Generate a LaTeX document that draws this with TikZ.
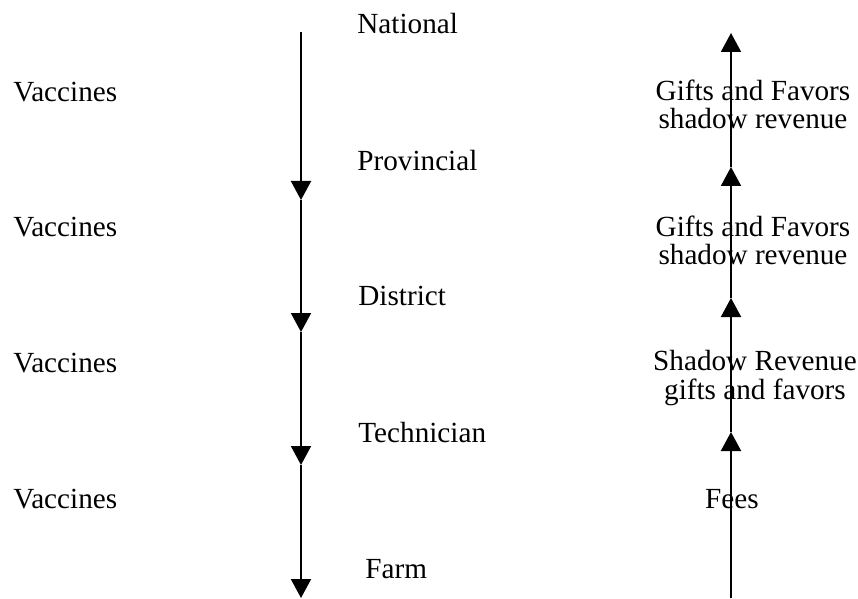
\documentclass[tikz,border=0pt]{standalone}
\usepackage{fontspec}
\setmainfont{Liberation Serif}
\usetikzlibrary{arrows.meta}
\begin{document}
\begin{tikzpicture}[x=0.5pt,y=-0.5pt,
  lbl/.style={inner sep=0pt,font=\fontsize{14.6}{14}\selectfont},
  flow/.style={line width=1pt,-{Triangle[length=9.5pt,width=10pt]}}]
\useasboundingbox (0,0) rectangle (858,599);
% left column coordinates
\coordinate (L0) at (301,32);
\coordinate (L1) at (301,200);
\coordinate (L2) at (301,332);
\coordinate (L3) at (301,465);
\coordinate (L4) at (301,598);
% right column coordinates
\coordinate (R0) at (731,598);
\coordinate (R1) at (731,432);
\coordinate (R2) at (731,298);
\coordinate (R3) at (731,167);
\coordinate (R4) at (731,33);
% level labels
\node[lbl,anchor=base west] (nat) at (357,34) {National};
\node[lbl,anchor=base west] (prov) at (357,170) {Provincial};
\node[lbl,anchor=base west] (dist) at (358,306) {District};
\node[lbl,anchor=base west] (tech) at (358,442) {Technician};
\node[lbl,anchor=base west] (farm) at (365,578) {Farm};
% vaccines labels
\node[lbl,anchor=base west] (v1) at (13,102) {Vaccines};
\node[lbl,anchor=base west] (v2) at (13,237) {Vaccines};
\node[lbl,anchor=base west] (v3) at (13,372) {Vaccines};
\node[lbl,anchor=base west] (v4) at (13,508) {Vaccines};
% right labels (base anchor = baseline of last line)
\node[lbl,anchor=base,align=center] (g1) at (753,129) {Gifts and Favors\\ shadow revenue};
\node[lbl,anchor=base,align=center] (g2) at (753,264) {Gifts and Favors\\ shadow revenue};
\node[lbl,anchor=base,align=center] (g3) at (755,399) {Shadow Revenue\\ gifts and favors};
\node[lbl,anchor=base] (fees) at (732,508) {Fees};
% arrows
\draw[flow] (L0) -- (L1);
\draw[flow] (L1) -- (L2);
\draw[flow] (L2) -- (L3);
\draw[flow] (L3) -- (L4);
\draw[flow] (R0) -- (R1);
\draw[flow] (R1) -- (R2);
\draw[flow] (R2) -- (R3);
\draw[flow] (R3) -- (R4);
\end{tikzpicture}
\end{document}
